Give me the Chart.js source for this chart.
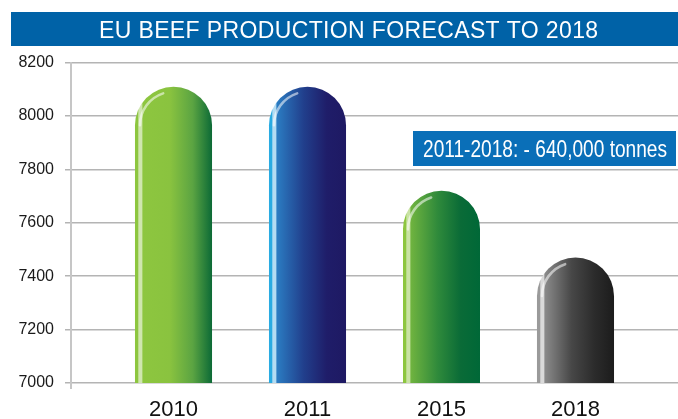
<!DOCTYPE html>
<html>
<head>
<meta charset="utf-8">
<title>EU beef production forecast to 2018</title>
<script src="https://cdn.jsdelivr.net/npm/chart.js@4.4.1/dist/chart.umd.min.js"></script>
<style>
  html, body { margin: 0; padding: 0; background: #ffffff; }
  #wrap { width: 678px; height: 419px; position: relative; }
</style>
</head>
<body>
<div id="wrap"><canvas id="chart" width="678" height="419"></canvas></div>
<script>
// ---- data -------------------------------------------------------------
const years = ['2010', '2011', '2015', '2018'];
const production = [8110, 8110, 7720, 7470];          // thousand tonnes
const yTicks = [7000, 7200, 7400, 7600, 7800, 8000, 8200];
const chartTitle = 'EU BEEF PRODUCTION FORECAST TO 2018';
const noteText = '2011-2018: - 640,000 tonnes';

// ---- styling ----------------------------------------------------------
// per bar: edge, highlight strip, light, mid, dark, darkest (left -> right)
const barPalettes = [
  ['#8dc63f', '#cfe6ae', '#8dc63f', '#8ac33f', '#5ba442', '#0c6a36'],
  ['#29abe2', '#b3dcf3', '#2b7cc2', '#213f8c', '#1f1d69', '#1e1963'],
  ['#8dc63f', '#c9e3a4', '#6fb33f', '#2f8a3b', '#0a6b37', '#006837'],
  ['#9a9a9a', '#dadada', '#8a8a8a', '#474747', '#2b2b2b', '#1c1c1c']
];
const BAR_PCT = 0.575;
const FONT = "'Liberation Sans', Arial, sans-serif";

function barFill(ctx) {
  const chart = ctx.chart;
  const xs = chart.scales.x;
  const p = barPalettes[ctx.dataIndex];
  if (!xs || !chart.chartArea) return p[2];
  const cx = xs.getPixelForValue(ctx.dataIndex);
  const half = (xs.getPixelForValue(1) - xs.getPixelForValue(0)) * BAR_PCT / 2;
  const g = chart.ctx.createLinearGradient(cx - half, 0, cx + half, 0);
  g.addColorStop(0, p[0]);
  g.addColorStop(0.035, p[0]);
  g.addColorStop(0.05, p[1]);
  g.addColorStop(0.085, p[1]);
  g.addColorStop(0.105, p[2]);
  g.addColorStop(0.45, p[3]);
  g.addColorStop(0.75, p[4]);
  g.addColorStop(1, p[5]);
  return g;
}

// glossy rim on the rounded top of each bar
const glossPlugin = {
  id: 'gloss',
  afterDatasetsDraw(chart) {
    const c = chart.ctx;
    chart.getDatasetMeta(0).data.forEach(bar => {
      const { x, y, width } = bar.getProps(['x', 'y', 'width'], true);
      const r = width / 2;
      c.save();
      c.lineCap = 'round';
      c.strokeStyle = 'rgba(255,255,255,0.55)';
      c.lineWidth = 2.6;
      c.beginPath();
      c.arc(x, y + r, r - 5, Math.PI * 1.0, Math.PI * 1.40);
      c.stroke();
      c.restore();
    });
  }
};

// title banner, note box and axis foot mark
const decorPlugin = {
  id: 'decor',
  beforeDraw(chart) {
    const c = chart.ctx;
    c.save();
    c.fillStyle = '#ffffff';
    c.fillRect(0, 0, chart.width, chart.height);
    c.restore();
  },
  afterDraw(chart) {
    const c = chart.ctx;
    const area = chart.chartArea;
    c.save();
    // banner
    c.fillStyle = '#0062a7';
    c.fillRect(11, 12, chart.width - 11, 34);
    c.fillStyle = '#ffffff';
    c.font = '23px ' + FONT;
    c.textBaseline = 'alphabetic';
    c.textAlign = 'left';
    const w0 = c.measureText(chartTitle).width;
    const spacing = (499 - w0) / (chartTitle.length - 1);
    if ('letterSpacing' in c) {
      c.letterSpacing = spacing.toFixed(2) + 'px';
      c.fillText(chartTitle, 99, 37.5);
      c.letterSpacing = '0px';
    } else {
      c.fillText(chartTitle, 99, 37.5);
    }
    // note box
    c.fillStyle = '#0a6fb8';
    c.fillRect(413, 131, 263, 35);
    c.fillStyle = '#ffffff';
    c.font = '23.5px ' + FONT;
    const nw = c.measureText(noteText).width;
    c.translate(423, 156.5);
    c.scale(244 / nw, 1);
    c.fillText(noteText, 0, 0);
    c.restore();
    // foot of the vertical axis below the baseline
    c.save();
    c.strokeStyle = '#c6c6c6';
    c.lineWidth = 2;
    c.beginPath();
    c.moveTo(area.left, area.bottom);
    c.lineTo(area.left, area.bottom + 6);
    c.stroke();
    c.restore();
  }
};

new Chart(document.getElementById('chart'), {
  type: 'bar',
  data: {
    datasets: [{
      data: production.map((v, i) => ({ x: i, y: v })),
      backgroundColor: barFill,
      borderWidth: 0,
      borderRadius: 40,
      borderSkipped: 'start',
      barPercentage: BAR_PCT,
      categoryPercentage: 1
    }]
  },
  options: {
    responsive: false,
    animation: false,
    devicePixelRatio: 1,
    layout: { padding: { top: 62.7, right: 0, bottom: 0, left: 0 } },
    plugins: {
      legend: { display: false },
      tooltip: { enabled: false },
      title: { display: false }
    },
    scales: {
      x: {
        type: 'linear',
        offset: false,
        min: -0.765,
        max: 3.765,
        afterBuildTicks: s => { s.ticks = years.map((_, i) => ({ value: i })); },
        afterFit: s => { s.height = 36; },
        ticks: {
          callback: v => years[v],
          autoSkip: false,
          maxRotation: 0,
          padding: 14,
          color: '#111111',
          font: { family: FONT, size: 22 }
        },
        grid: { display: false, drawTicks: false },
        border: { display: false }
      },
      y: {
        min: 7000,
        max: 8200,
        afterBuildTicks: s => { s.ticks = yTicks.map(v => ({ value: v })); },
        afterFit: s => { s.width = 71; },
        ticks: {
          callback: v => String(v),
          padding: 11,
          color: '#1a1a1a',
          font: { family: FONT, size: 16 }
        },
        grid: { color: '#b4b4b4', lineWidth: 1.5, tickLength: 6, tickColor: '#b4b4b4' },
        border: { color: '#c6c6c6', width: 2 }
      }
    }
  },
  plugins: [decorPlugin, glossPlugin]
});
</script>
</body>
</html>
